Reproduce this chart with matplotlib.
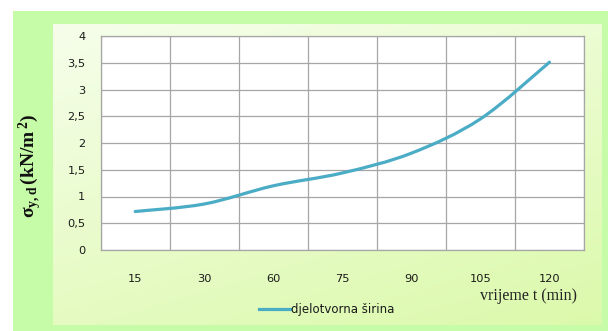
import numpy as np
import matplotlib
matplotlib.use('Agg')
import matplotlib.pyplot as plt
from matplotlib.path import Path
from matplotlib.patches import PathPatch
from matplotlib.lines import Line2D

# data
categories = ['15', '30', '60', '75', '90', '105', '120']
values = [0.72, 0.86, 1.20, 1.44, 1.81, 2.45, 3.51]
yticks = [0, 0.5, 1, 1.5, 2, 2.5, 3, 3.5, 4]
ytick_labels = ['0', '0,5', '1', '1,5', '2', '2,5', '3', '3,5', '4']

W, H = 608, 331
fig = plt.figure(figsize=(W / 100, H / 100), dpi=100)
fig.patch.set_facecolor('white')

# background panels (pixel coords)
bg = fig.add_axes([0, 0, 1, 1])
bg.axis('off')
outer = np.array([[0.78, 0.985, 0.66]])
bg.imshow(outer.reshape(1, 1, 3), extent=(13, W, H, 11), aspect='auto', zorder=0)
gx, gy = np.meshgrid(np.linspace(0, 1, 200), np.linspace(0, 1, 120))
t = (0.35 * gx + 0.65 * gy)
c0 = np.array([0.965, 0.995, 0.92])
c1 = np.array([0.86, 0.978, 0.67])
grad = c0[None, None, :] * (1 - t[..., None]) + c1[None, None, :] * t[..., None]
bg.imshow(grad, extent=(53, 602, 325, 24), aspect='auto', zorder=1)
bg.set_xlim(0, W)
bg.set_ylim(H, 0)

ax = fig.add_axes([100.7 / W, 81 / H, (584 - 100.7) / W, (250 - 36) / H])
ax.set_facecolor('white')

x = np.arange(len(values))
# smoothed line (bezier through the data points, Excel style)
pts = np.column_stack([x, values]).astype(float)
ext = np.vstack([pts[0], pts, pts[-1]])
verts = [tuple(pts[0])]
codes = [Path.MOVETO]
for i in range(len(pts) - 1):
    p0, p1, p2, p3 = ext[i], ext[i + 1], ext[i + 2], ext[i + 3]
    c1p = p1 + (p2 - p0) / 6.0
    c2p = p2 - (p3 - p1) / 6.0
    verts += [tuple(c1p), tuple(c2p), tuple(p2)]
    codes += [Path.CURVE4] * 3
ax.add_patch(PathPatch(Path(verts, codes), fill=False, edgecolor='#4bacc6',
                       lw=2.3, capstyle='round', zorder=3))

ax.set_xlim(-0.5, len(values) - 0.5)
ax.set_ylim(0, 4)
ax.set_yticks(yticks)
ax.set_yticklabels(ytick_labels)
ax.set_xticks(x)
ax.set_xticklabels(categories)
ax.set_xticks(np.arange(-0.5, len(values)), minor=True)
ax.grid(True, which='minor', axis='x', color='#a6a6a6', lw=0.9)
ax.grid(True, which='major', axis='y', color='#a6a6a6', lw=0.9)
ax.tick_params(which='both', length=0)
ax.tick_params(axis='y', pad=11, labelsize=8.2, labelcolor='#1a1a1a')
ax.tick_params(axis='x', pad=17, labelsize=8.2, labelcolor='#1a1a1a')
for s in ax.spines.values():
    s.set_color('#a6a6a6')
    s.set_linewidth(0.9)

plt.rcParams['mathtext.fontset'] = 'custom'
plt.rcParams['mathtext.rm'] = 'Liberation Serif:bold'
plt.rcParams['mathtext.it'] = 'Liberation Serif:bold'
plt.rcParams['mathtext.bf'] = 'Liberation Serif:bold'
fig.text(30 / W, 1 - 166 / H, r'$\sigma_{y,d}\,$(kN/m$^{\,2}$)', rotation=90,
         ha='center', va='center', fontsize=14, fontweight='bold',
         family='Liberation Serif', color='#111111')

fig.text(577 / W, 1 - 296 / H, 'vrijeme t (min)', ha='right', va='center',
         fontsize=11.5, family='Liberation Serif', color='#222222')

h = Line2D([], [], color='#4bacc6', lw=2.3)
fig.legend([h], ['djelotvorna širina'], loc='center',
           bbox_to_anchor=(327 / W, 1 - 310 / H), frameon=False,
           fontsize=8.5, handlelength=2.6, handletextpad=0.1,
           labelcolor='#1a1a1a')

fig.savefig('out.png', dpi=100, facecolor=fig.get_facecolor())
